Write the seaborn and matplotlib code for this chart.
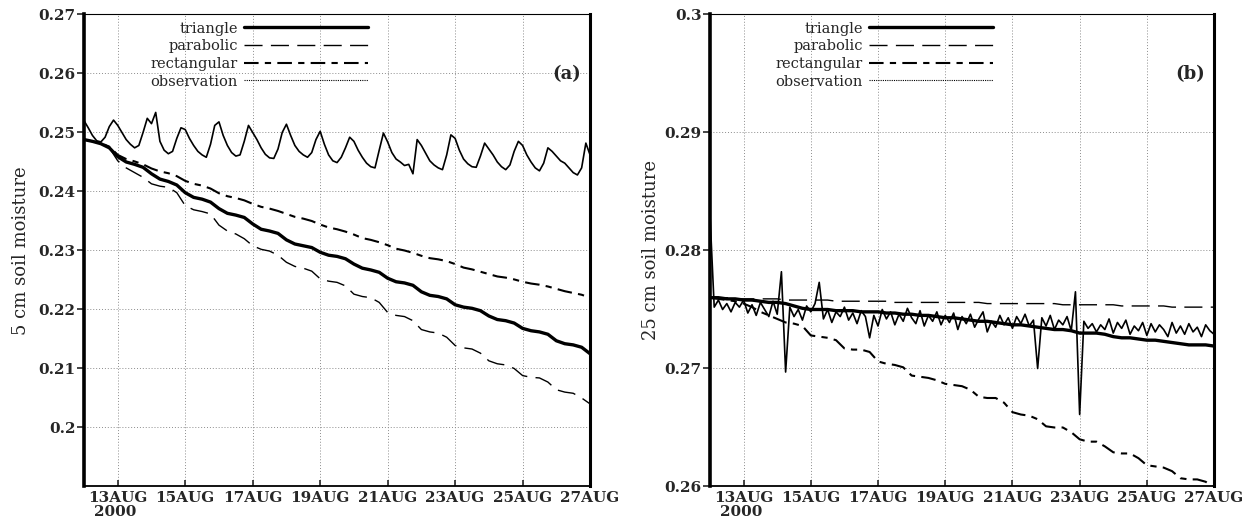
import numpy as np
import pandas as pd
import seaborn as sns
import matplotlib.pyplot as plt
import matplotlib.dates as mdates
from matplotlib.lines import Line2D

# ---- data (soil moisture, 12AUG2000 00Z .. 27AUG2000 00Z) ----
# model runs: every 6 h
tri_a = [0.2488, 0.2485, 0.2481, 0.2474,
         0.2459, 0.2450, 0.2446, 0.2441,
         0.2430, 0.2421, 0.2417, 0.2411,
         0.2398, 0.2390, 0.2387, 0.2382,
         0.2371, 0.2363, 0.2360, 0.2356,
         0.2345, 0.2336, 0.2333, 0.2329,
         0.2318, 0.2311, 0.2308, 0.2305,
         0.2297, 0.2292, 0.2290, 0.2286,
         0.2277, 0.2270, 0.2267, 0.2263,
         0.2253, 0.2247, 0.2245, 0.2241,
         0.2230, 0.2224, 0.2222, 0.2218,
         0.2208, 0.2204, 0.2202, 0.2198,
         0.2189, 0.2183, 0.2181, 0.2177,
         0.2168, 0.2164, 0.2162, 0.2158,
         0.2147, 0.2142, 0.2140, 0.2136,
         0.2125]
para_a = [0.2488, 0.2485, 0.2481, 0.2474,
          0.2452, 0.2440, 0.2432, 0.2424,
          0.2413, 0.2409, 0.2407, 0.2398,
          0.2376, 0.2369, 0.2366, 0.2362,
          0.2343, 0.2333, 0.2328, 0.2320,
          0.2308, 0.2302, 0.2299, 0.2292,
          0.2280, 0.2273, 0.2270, 0.2265,
          0.2252, 0.2248, 0.2246, 0.2240,
          0.2226, 0.2222, 0.2220, 0.2212,
          0.2195, 0.2190, 0.2188, 0.2181,
          0.2166, 0.2162, 0.2160, 0.2153,
          0.2139, 0.2135, 0.2133, 0.2126,
          0.2113, 0.2108, 0.2106, 0.2100,
          0.2088, 0.2085, 0.2084, 0.2077,
          0.2064, 0.2060, 0.2058, 0.2050,
          0.2040]
rect_a = [0.2488, 0.2485, 0.2482, 0.2476,
          0.2462, 0.2455, 0.2451, 0.2446,
          0.2439, 0.2434, 0.2431, 0.2426,
          0.2418, 0.2413, 0.2410, 0.2405,
          0.2397, 0.2392, 0.2389, 0.2385,
          0.2379, 0.2374, 0.2371, 0.2367,
          0.2362, 0.2357, 0.2354, 0.2350,
          0.2344, 0.2339, 0.2336, 0.2332,
          0.2327, 0.2321, 0.2318, 0.2314,
          0.2309, 0.2303, 0.2300, 0.2296,
          0.2291, 0.2287, 0.2285, 0.2282,
          0.2277, 0.2271, 0.2268, 0.2264,
          0.2260, 0.2256, 0.2254, 0.2251,
          0.2247, 0.2244, 0.2242, 0.2239,
          0.2235, 0.2231, 0.2228, 0.2225,
          0.2220]
tri_b = [0.2760, 0.2760, 0.2759, 0.2759,
         0.2758, 0.2758, 0.2757, 0.2756,
         0.2756, 0.2755, 0.2753, 0.2751,
         0.2750, 0.2750, 0.2750, 0.2749,
         0.2749, 0.2749, 0.2748, 0.2748,
         0.2748, 0.2747, 0.2747, 0.2746,
         0.2746, 0.2745, 0.2745, 0.2744,
         0.2743, 0.2743, 0.2742, 0.2741,
         0.2740, 0.2740, 0.2739, 0.2738,
         0.2737, 0.2737, 0.2736, 0.2735,
         0.2734, 0.2733, 0.2733, 0.2732,
         0.2730, 0.2730, 0.2730, 0.2729,
         0.2727, 0.2726, 0.2726, 0.2725,
         0.2724, 0.2724, 0.2723, 0.2722,
         0.2721, 0.2720, 0.2720, 0.2720,
         0.2719]
para_b = [0.2760, 0.2760, 0.2760, 0.2759,
          0.2759, 0.2759, 0.2759, 0.2759,
          0.2759, 0.2758, 0.2758, 0.2758,
          0.2758, 0.2758, 0.2758, 0.2757,
          0.2757, 0.2757, 0.2757, 0.2757,
          0.2757, 0.2757, 0.2756, 0.2756,
          0.2756, 0.2756, 0.2756, 0.2756,
          0.2756, 0.2756, 0.2756, 0.2756,
          0.2756, 0.2755, 0.2755, 0.2755,
          0.2755, 0.2755, 0.2755, 0.2755,
          0.2755, 0.2755, 0.2754, 0.2754,
          0.2754, 0.2754, 0.2754, 0.2754,
          0.2754, 0.2753, 0.2753, 0.2753,
          0.2753, 0.2753, 0.2753, 0.2752,
          0.2752, 0.2752, 0.2752, 0.2752,
          0.2752]
rect_b = [0.2760, 0.2759, 0.2758, 0.2757,
          0.2755, 0.2752, 0.2748, 0.2745,
          0.2742, 0.2739, 0.2738, 0.2736,
          0.2728, 0.2727, 0.2726, 0.2724,
          0.2717, 0.2716, 0.2716, 0.2714,
          0.2706, 0.2704, 0.2703, 0.2701,
          0.2694, 0.2693, 0.2692, 0.2690,
          0.2687, 0.2686, 0.2685, 0.2682,
          0.2676, 0.2675, 0.2675, 0.2671,
          0.2663, 0.2661, 0.2660, 0.2657,
          0.2651, 0.2650, 0.2650, 0.2646,
          0.2640, 0.2638, 0.2638, 0.2634,
          0.2629, 0.2628, 0.2628, 0.2624,
          0.2618, 0.2617, 0.2616, 0.2613,
          0.2607, 0.2606, 0.2606, 0.2604,
          0.2599]

# observations: every 3 h
obs_a = [0.2520, 0.2508, 0.2495, 0.2486, 0.2484, 0.2492, 0.2510, 0.2521,
         0.2512, 0.2500, 0.2488, 0.2480, 0.2474, 0.2478, 0.2500, 0.2524,
         0.2515, 0.2534, 0.2485, 0.2470, 0.2464, 0.2468, 0.2490, 0.2508,
         0.2505, 0.2490, 0.2478, 0.2468, 0.2462, 0.2458, 0.2480, 0.2512,
         0.2518, 0.2495, 0.2478, 0.2466, 0.2460, 0.2462, 0.2485, 0.2512,
         0.2500, 0.2488, 0.2474, 0.2463, 0.2457, 0.2456, 0.2472, 0.2500,
         0.2514, 0.2495, 0.2478, 0.2468, 0.2462, 0.2458, 0.2466, 0.2488,
         0.2502, 0.2480, 0.2462, 0.2452, 0.2449, 0.2458, 0.2474, 0.2492,
         0.2485, 0.2470, 0.2458, 0.2448, 0.2442, 0.2440, 0.2470, 0.2499,
         0.2484, 0.2466, 0.2455, 0.2450, 0.2444, 0.2446, 0.2430, 0.2488,
         0.2478, 0.2465, 0.2452, 0.2445, 0.2440, 0.2437, 0.2462, 0.2496,
         0.2490, 0.2470, 0.2455, 0.2447, 0.2442, 0.2441, 0.2460, 0.2482,
         0.2472, 0.2462, 0.2450, 0.2442, 0.2437, 0.2445, 0.2468, 0.2485,
         0.2478, 0.2462, 0.2450, 0.2440, 0.2435, 0.2448, 0.2474, 0.2468,
         0.2460, 0.2452, 0.2448, 0.2440, 0.2432, 0.2428, 0.2440, 0.2482,
         0.2462]
obs_b = [0.2830, 0.2752, 0.2758, 0.2750, 0.2755, 0.2748, 0.2756, 0.2752,
         0.2758, 0.2747, 0.2754, 0.2745, 0.2756, 0.2750, 0.2744, 0.2757,
         0.2746, 0.2782, 0.2697, 0.2752, 0.2744, 0.2750, 0.2741, 0.2753,
         0.2748, 0.2755, 0.2773, 0.2742, 0.2750, 0.2739, 0.2748, 0.2744,
         0.2752, 0.2741, 0.2747, 0.2738, 0.2749, 0.2744, 0.2726, 0.2745,
         0.2736, 0.2750, 0.2742, 0.2748, 0.2737, 0.2746, 0.2740, 0.2751,
         0.2743, 0.2738, 0.2749, 0.2736, 0.2745, 0.2740, 0.2748, 0.2737,
         0.2745, 0.2739, 0.2747, 0.2733, 0.2744, 0.2738, 0.2746, 0.2735,
         0.2742, 0.2748, 0.2731, 0.2740, 0.2735, 0.2745, 0.2737, 0.2743,
         0.2734, 0.2744, 0.2738, 0.2746, 0.2736, 0.2741, 0.2700, 0.2743,
         0.2736, 0.2745, 0.2733, 0.2741, 0.2737, 0.2744, 0.2732, 0.2765,
         0.2661, 0.2740, 0.2734, 0.2738, 0.2731, 0.2737, 0.2733, 0.2742,
         0.2730, 0.2739, 0.2734, 0.2741, 0.2729, 0.2736, 0.2732, 0.2739,
         0.2728, 0.2738, 0.2731, 0.2737, 0.2733, 0.2727, 0.2739, 0.2730,
         0.2736, 0.2729, 0.2738, 0.2731, 0.2735, 0.2727, 0.2737, 0.2732,
         0.2729]

labels = ["triangle", "parabolic", "rectangular", "observation"]
ylabels = ["5 cm soil moisture", "25 cm soil moisture"]
panel_tags = ["(a)", "(b)"]

t6 = pd.date_range("2000-08-12", periods=61, freq="6h")
t3 = pd.date_range("2000-08-12", periods=121, freq="3h")

sns.set_theme(style="white")
plt.rcParams['font.family'] = ['DejaVu Serif']
plt.rcParams['axes.unicode_minus'] = False

styles = {
    "triangle": dict(lw=2.4, ls='-'),
    "parabolic": dict(lw=1.0, ls=(0, (13, 6))),
    "rectangular": dict(lw=1.5, ls=(0, (7, 3, 3, 3))),
    "observation": dict(lw=1.2, ls='-'),
}

fig = plt.figure(figsize=(12.52, 5.23), dpi=100)
ax_a = fig.add_axes([0.0671, 0.0698, 0.4042, 0.9025])
ax_b = fig.add_axes([0.5671, 0.0698, 0.4026, 0.9025])

panels = [
    (ax_a, tri_a, para_a, rect_a, obs_a, (0.19, 0.27), np.arange(0.20, 0.2701, 0.01), -0.107),
    (ax_b, tri_b, para_b, rect_b, obs_b, (0.26, 0.30), np.arange(0.26, 0.3001, 0.01), -0.100),
]

for i, (ax, tri, para, rect, obs, ylim, yticks, ylab_x) in enumerate(panels):
    df = pd.DataFrame({"time": t6, "triangle": tri, "parabolic": para, "rectangular": rect})
    dfo = pd.DataFrame({"time": t3, "observation": obs})

    sns.lineplot(data=dfo, x="time", y="observation", ax=ax, color="black",
                 linewidth=styles["observation"]["lw"], linestyle='-')
    for name in ["parabolic", "rectangular", "triangle"]:
        sns.lineplot(data=df, x="time", y=name, ax=ax, color="black",
                     linewidth=styles[name]["lw"], linestyle=styles[name]["ls"])

    ax.set_xlim(pd.Timestamp("2000-08-12"), pd.Timestamp("2000-08-27"))
    ax.set_ylim(*ylim)
    ax.set_yticks(yticks)
    ax.yaxis.set_major_formatter(plt.FuncFormatter(lambda v, p: f"{v:g}"))
    ax.xaxis.set_major_locator(mdates.DayLocator(bymonthday=range(13, 28, 2)))
    ax.xaxis.set_major_formatter(plt.FuncFormatter(
        lambda v, p: mdates.num2date(v).strftime("%d%b").upper()))

    ax.grid(True, color="0.55", linestyle=(0, (1, 2)), linewidth=0.7)
    ax.tick_params(axis='x', direction='in', length=4, width=1.2, pad=3,
                   labelsize=11, bottom=True)
    ax.tick_params(axis='y', direction='out', length=5, width=1.2, pad=1,
                   labelsize=11, left=True)
    for lab in ax.get_xticklabels() + ax.get_yticklabels():
        lab.set_fontweight('bold')

    for side, lw in [("left", 2.6), ("right", 2.2), ("top", 0.8), ("bottom", 1.3)]:
        ax.spines[side].set_visible(True)
        ax.spines[side].set_linewidth(lw)
        ax.spines[side].set_color("black")

    ax.set_xlabel("")
    ax.set_ylabel(ylabels[i], fontsize=13)
    ax.yaxis.set_label_coords(ylab_x, 0.5)

    ax.text(0.982, 0.873, panel_tags[i], transform=ax.transAxes, ha='right',
            va='center', fontsize=13, fontweight='bold')
    ax.annotate("2000", xy=(pd.Timestamp("2000-08-13"), 0), xycoords=('data', 'axes fraction'),
                xytext=(-24, -19), textcoords='offset pixels', ha='left', va='top',
                fontsize=11, fontweight='bold', annotation_clip=False)

    handles = [Line2D([], [], color='black', lw=styles[n]["lw"], ls=styles[n]["ls"]) for n in labels[:3]]
    handles.append(Line2D([], [], color='black', lw=0.8, ls=(0, (1, 1))))
    ax.legend(handles, labels, loc='upper right', bbox_to_anchor=(0.561, 0.985),
              markerfirst=False, frameon=False, fontsize=10.5, handlelength=8.5,
              handletextpad=0.4, labelspacing=0.25, borderpad=0, borderaxespad=0)

fig.savefig("out.png", dpi=100)
